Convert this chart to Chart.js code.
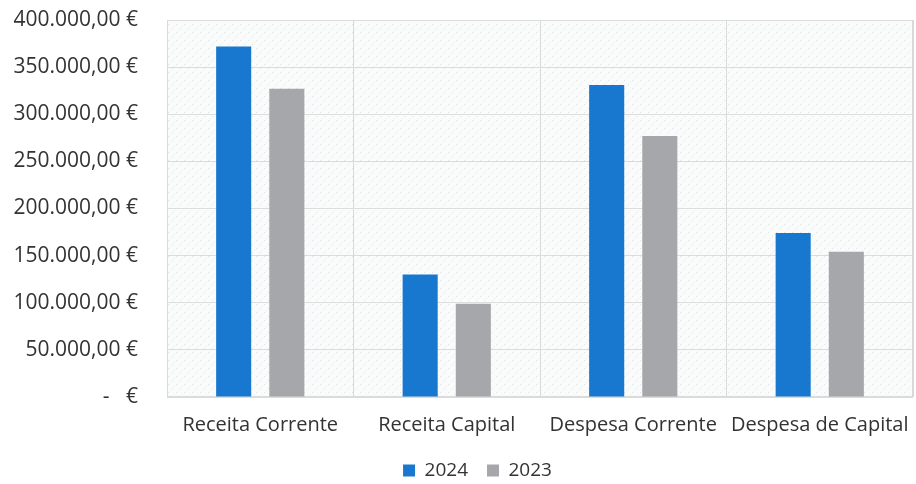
<!DOCTYPE html>
<html>
<head>
<meta charset="utf-8">
<script src="https://cdn.jsdelivr.net/npm/chart.js@4"></script>
<style>
html,body{margin:0;padding:0;background:#fff;overflow:hidden;}
#wrap{width:916px;height:484px;position:relative;overflow:hidden;}
</style>
</head>
<body>
<div id="wrap"><canvas id="c" width="916" height="490"></canvas></div>
<script>
const categories = ['Receita Corrente', 'Receita Capital', 'Despesa Corrente', 'Despesa de Capital'];
const values2024 = [372000, 130000, 331000, 174000];
const values2023 = [327000, 99000, 277000, 154000];
const seriesLabels = ['2024', '2023'];
const yMax = 400000;
const yStep = 50000;

function fmtEuro(v) {
  if (v === 0) return '-   €';
  const s = Math.round(v).toString().replace(/\B(?=(\d{3})+(?!\d))/g, '.');
  return s + ',00 €';
}

const bgPlugin = {
  id: 'plotBg',
  afterLayout(chart) {
    if (chart.legend) { chart.legend.left += 21; chart.legend.right += 21; }
  },
  beforeDraw(chart) {
    const {ctx, chartArea: a} = chart;
    const p = document.createElement('canvas');
    p.width = 8; p.height = 8;
    const pc = p.getContext('2d');
    pc.fillStyle = '#fafbfb';
    pc.fillRect(0, 0, 8, 8);
    pc.fillStyle = '#e0e2e4';
    pc.fillRect(0, 0, 1, 1);
    pc.fillRect(4, 4, 1, 1);
    pc.fillStyle = '#eaecee';
    pc.fillRect(2, 6, 1, 1);
    pc.fillRect(6, 2, 1, 1);
    ctx.save();
    ctx.fillStyle = ctx.createPattern(p, 'repeat');
    ctx.fillRect(a.left, a.top, a.right - a.left, a.bottom - a.top);
    ctx.strokeStyle = '#d9d9d9';
    ctx.lineWidth = 1;
    ctx.strokeRect(a.left + 0.5, a.top + 0.5, a.right - a.left - 1, a.bottom - a.top - 1);
    ctx.restore();
  }
};

new Chart(document.getElementById('c'), {
  type: 'bar',
  data: {
    labels: categories,
    datasets: [
      { label: seriesLabels[0], data: values2024, backgroundColor: '#1878d0', categoryPercentage: 0.57, barPercentage: 0.66 },
      { label: seriesLabels[1], data: values2023, backgroundColor: '#a6a7aa', categoryPercentage: 0.57, barPercentage: 0.66 }
    ]
  },
  options: {
    responsive: false,
    animation: false,
    layout: { padding: { top: 20, right: 3, left: 0, bottom: 0 } },
    plugins: {
      legend: {
        position: 'bottom',
        labels: {
          boxWidth: 12, boxHeight: 12, padding: 19,
          color: '#333', font: { family: 'Open Sans', size: 19 }
        }
      },
      tooltip: { enabled: false }
    },
    scales: {
      x: {
        grid: { color: '#d9d9d9', offset: true, drawTicks: true, tickLength: 14, tickColor: 'rgba(0,0,0,0)' },
        border: { display: false },
        ticks: { color: '#333', font: { family: 'Open Sans', size: 20 }, padding: 2, maxRotation: 0, autoSkip: false },
        afterFit: s => { s.height = 45; }
      },
      y: {
        min: 0, max: yMax,
        grid: { color: '#dcdcdc', drawTicks: true, tickLength: 25, tickColor: 'rgba(0,0,0,0)' },
        border: { display: false },
        ticks: {
          stepSize: yStep, padding: 4, color: '#333',
          font: { family: 'Open Sans', size: 21 },
          callback: v => fmtEuro(v)
        },
        afterFit: s => { s.width = 167; }
      }
    }
  },
  plugins: [bgPlugin]
});
</script>
</body>
</html>
